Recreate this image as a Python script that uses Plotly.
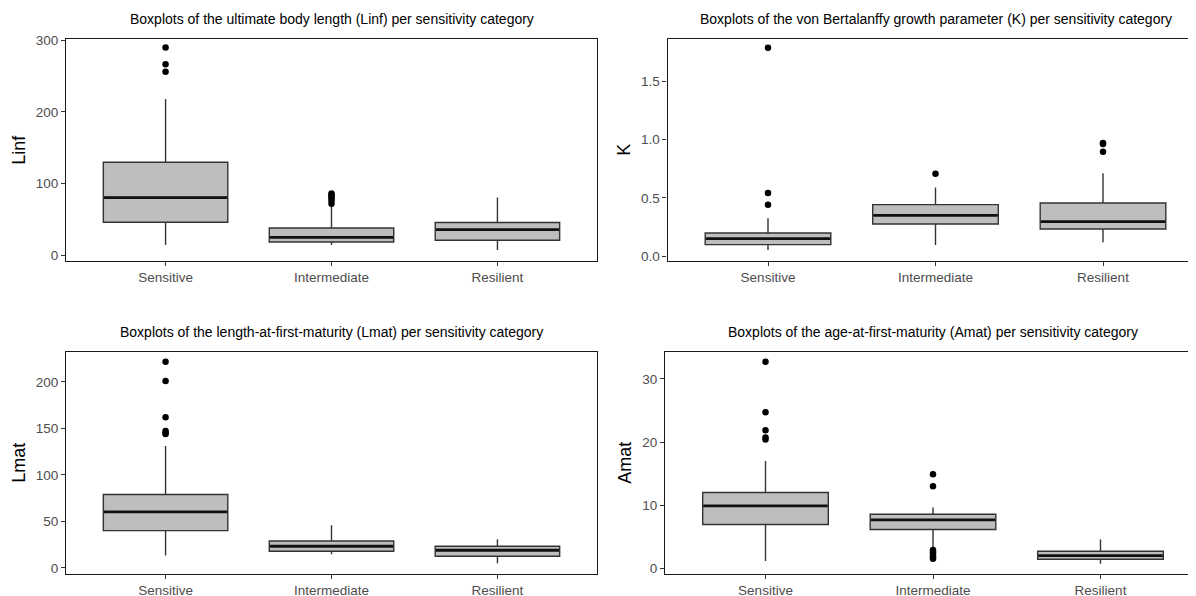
import plotly.graph_objects as go

W, H = 1196, 596
OFF = 8  # the page body adds an 8px margin around the figure

categories = ["Sensitive", "Intermediate", "Resilient"]

# Linf
linf_q1 = [46, 18.6, 21]
linf_med = [80.5, 25, 35.8]
linf_q3 = [129.8, 38, 45.6]
linf_lo = [14.4, 14.4, 7.4]
linf_hi = [218, 68, 80.5]
linf_out_sens = [289.8, 266.5, 255.8]
linf_out_int = [72, 76, 79, 82, 84, 86]
linf_out_res = []

# K
k_q1 = [0.10, 0.277, 0.234]
k_med = [0.151, 0.351, 0.297]
k_q3 = [0.20, 0.442, 0.456]
k_lo = [0.054, 0.097, 0.12]
k_hi = [0.325, 0.588, 0.71]
k_out_sens = [1.785, 0.542, 0.442]
k_out_int = [0.707]
k_out_res = [0.97, 0.96, 0.895]

# Lmat
lmat_q1 = [40.1, 17.9, 12.5]
lmat_med = [60.2, 23.3, 19]
lmat_q3 = [78.9, 29, 23.3]
lmat_lo = [13.3, 14.7, 5]
lmat_hi = [131, 45.9, 30.8]
lmat_out_sens = [221.5, 200.7, 162, 147, 145.2, 144]
lmat_out_int = []
lmat_out_res = []

# Amat
amat_q1 = [6.93, 6.14, 1.43]
amat_med = [9.9, 7.67, 2.0]
amat_q3 = [12.0, 8.57, 2.7]
amat_lo = [1.16, 3.3, 0.74]
amat_hi = [17, 9.63, 4.55]
amat_out_sens = [32.7, 24.7, 21.85, 20.7, 20.4]
amat_out_int = [14.9, 13.0, 2.9, 2.6, 2.3, 2.0, 1.7, 1.5]
amat_out_res = []

titles = [
    "Boxplots of the ultimate body length (Linf) per sensitivity category",
    "Boxplots of the von Bertalanffy growth parameter (K) per sensitivity category",
    "Boxplots of the length-at-first-maturity (Lmat) per sensitivity category",
    "Boxplots of the age-at-first-maturity (Amat) per sensitivity category",
]
ylabels = ["Linf", "K", "Lmat", "Amat"]

panels = [
    dict(q1=linf_q1, med=linf_med, q3=linf_q3, lo=linf_lo, hi=linf_hi,
         outs=[linf_out_sens, linf_out_int, linf_out_res],
         px=(66, 597), py=(38.7, 261), yr=[-8, 302], tv=[0, 100, 200, 300],
         tt=["0", "100", "200", "300"], ytx=19, right=True),
    dict(q1=k_q1, med=k_med, q3=k_q3, lo=k_lo, hi=k_hi,
         outs=[k_out_sens, k_out_int, k_out_res],
         px=(667.5, 1203.5), py=(38.7, 261), yr=[-0.04, 1.862], tv=[0, 0.5, 1.0, 1.5],
         tt=["0.0", "0.5", "1.0", "1.5"], ytx=624, right=False),
    dict(q1=lmat_q1, med=lmat_med, q3=lmat_q3, lo=lmat_lo, hi=lmat_hi,
         outs=[lmat_out_sens, lmat_out_int, lmat_out_res],
         px=(66, 597), py=(351.7, 574), yr=[-6.5, 232.3], tv=[0, 50, 100, 150, 200],
         tt=["0", "50", "100", "150", "200"], ytx=19, right=True),
    dict(q1=amat_q1, med=amat_med, q3=amat_q3, lo=amat_lo, hi=amat_hi,
         outs=[amat_out_sens, amat_out_int, amat_out_res],
         px=(665, 1201), py=(351.7, 574), yr=[-0.9, 34.3], tv=[0, 10, 20, 30],
         tt=["0", "10", "20", "30"], ytx=625, right=False),
]

fig = go.Figure()
annotations = []
font_family = "Liberation Sans, Arial, sans-serif"
tickfont = dict(family=font_family, size=13.5, color="#4D4D4D")

for i, p in enumerate(panels):
    n = i + 1
    xa = "x" if n == 1 else f"x{n}"
    ya = "y" if n == 1 else f"y{n}"
    x0, x1 = p["px"][0] - OFF, p["px"][1] - OFF
    top, bot = p["py"][0] - OFF, p["py"][1] - OFF
    spacing = (x1 - x0) / 3.2
    x1c = min(x1, W)
    dx0, dx1 = x0 / W, x1c / W
    xr_end = -0.6 + (x1c - x0) / spacing
    dy0 = 1 - bot / H
    dy1 = 1 - top / H

    fig.add_trace(go.Box(
        x=categories, q1=p["q1"], median=p["med"], q3=p["q3"],
        lowerfence=p["lo"], upperfence=p["hi"],
        width=0.75, whiskerwidth=0, boxpoints=False,
        fillcolor="#BEBEBE", line=dict(color="#333333", width=1.4),
        xaxis=xa, yaxis=ya, showlegend=False, hoverinfo="skip",
    ))
    # thicker median line (ggplot style); plotly line-ew spans 1.4 * size
    fig.add_trace(go.Scatter(
        x=categories, y=p["med"], mode="markers",
        marker=dict(symbol="line-ew", size=0.75 * spacing / 1.4 - 1,
                    line=dict(color="#111111", width=2.8)),
        xaxis=xa, yaxis=ya, showlegend=False, hoverinfo="skip",
    ))
    for cat, vals in zip(categories, p["outs"]):
        if vals:
            fig.add_trace(go.Scatter(
                x=[cat] * len(vals), y=vals, mode="markers",
                marker=dict(color="black", size=6.5),
                xaxis=xa, yaxis=ya, showlegend=False, hoverinfo="skip",
            ))

    fig.update_layout(**{
        ("xaxis" if n == 1 else f"xaxis{n}"): dict(
            domain=[dx0, dx1], anchor=ya, type="category",
            categoryorder="array", categoryarray=categories,
            range=[-0.6, xr_end], showline=True, linecolor="#1a1a1a", linewidth=1.2,
            mirror=True, ticks="outside", ticklen=4, tickcolor="#333333",
            tickfont=tickfont, showgrid=False, zeroline=False, fixedrange=True,
            automargin=False,
        ),
        ("yaxis" if n == 1 else f"yaxis{n}"): dict(
            domain=[dy0, dy1], anchor=xa, range=p["yr"],
            tickvals=p["tv"], ticktext=p["tt"],
            showline=True, linecolor="#1a1a1a", linewidth=1.2,
            mirror=p["right"], ticks="outside", ticklen=4, tickcolor="#333333",
            tickfont=tickfont, showgrid=False, zeroline=False, fixedrange=True,
            automargin=False,
        ),
    })

    ty = top - 20
    annotations.append(dict(
        text=titles[i], x=(x0 + x1) / 2 / W, y=1 - ty / H, xref="paper", yref="paper",
        xanchor="center", yanchor="middle", showarrow=False,
        font=dict(family=font_family, size=14, color="#000000"),
    ))
    annotations.append(dict(
        text=ylabels[i], x=(p["ytx"] - OFF) / W, y=(dy0 + dy1) / 2, xref="paper", yref="paper",
        xanchor="center", yanchor="middle", showarrow=False, textangle=-90,
        font=dict(family=font_family, size=18, color="#000000"),
    ))

fig.update_layout(
    width=W, height=H, margin=dict(l=0, r=0, t=0, b=0, autoexpand=False),
    paper_bgcolor="white", plot_bgcolor="white",
    annotations=annotations, showlegend=False,
)

fig.write_html("out.html")
